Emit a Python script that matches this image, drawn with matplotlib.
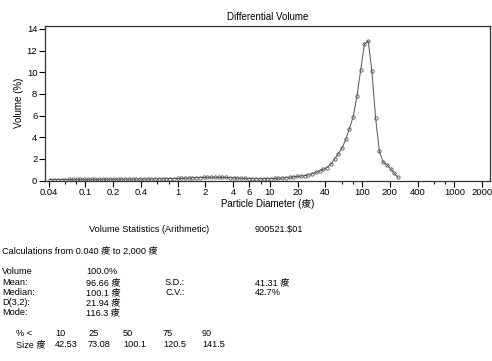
import matplotlib
matplotlib.use("Agg")
import matplotlib.pyplot as plt
from matplotlib.ticker import FixedLocator, NullFormatter

plt.rcParams['font.family'] = ['Liberation Sans', 'Noto Sans CJK JP']

# Channel centre diameters (um) and differential volume (%)
diameters = [0.0419, 0.0460, 0.0504, 0.0554, 0.0608, 0.0667, 0.0732, 0.0805, 0.0883, 0.0969,
             0.1065, 0.1168, 0.1283, 0.1408, 0.1546, 0.1697, 0.1863, 0.2045, 0.2245, 0.2464,
             0.2705, 0.2971, 0.3261, 0.3579, 0.393, 0.432, 0.474, 0.520, 0.571, 0.627,
             0.688, 0.755, 0.829, 0.911, 1.000, 1.097, 1.204, 1.321, 1.451, 1.593,
             1.749, 1.920, 2.106, 2.312, 2.539, 2.787, 3.060, 3.358, 3.687, 4.048,
             4.443, 4.878, 5.354, 5.878, 6.452, 7.083, 7.776, 8.536, 9.371, 10.29,
             11.30, 12.40, 13.61, 14.94, 16.40, 18.00, 19.76, 21.70, 23.82, 26.14,
             28.70, 31.51, 34.59, 37.97, 41.68, 45.76, 50.23, 55.14, 60.53, 66.44,
             72.94, 80.07, 87.91, 96.49, 105.9, 116.3, 127.6, 140.1, 153.8, 168.9,
             185.4, 203.5, 223.4, 245.3]
volume = [0.08, 0.08, 0.09, 0.09, 0.09, 0.10, 0.10, 0.10, 0.10, 0.10,
          0.10, 0.10, 0.10, 0.10, 0.11, 0.11, 0.11, 0.11, 0.12, 0.12,
          0.12, 0.12, 0.12, 0.13, 0.13, 0.13, 0.14, 0.14, 0.15, 0.15,
          0.16, 0.16, 0.17, 0.18, 0.19, 0.20, 0.21, 0.23, 0.24, 0.26,
          0.27, 0.28, 0.29, 0.30, 0.30, 0.30, 0.29, 0.28, 0.26, 0.25,
          0.23, 0.21, 0.20, 0.18, 0.17, 0.16, 0.16, 0.16, 0.17, 0.18,
          0.19, 0.21, 0.23, 0.26, 0.29, 0.33, 0.37, 0.41, 0.45, 0.52,
          0.62, 0.74, 0.88, 1.03, 1.2, 1.5, 2.0, 2.45, 3.0, 3.8,
          4.8, 5.9, 7.8, 10.2, 12.6, 12.9, 10.1, 5.75, 2.7, 1.7,
          1.45, 1.1, 0.65, 0.3]

x_major = [0.04, 0.1, 0.2, 0.4, 1, 2, 4, 6, 10, 20, 40, 100, 200, 400, 1000, 2000]
x_major_labels = ["0.04", "0.1", "0.2", "0.4", "1", "2", "4", "6", "10", "20", "40",
                  "100", "200", "400", "1000", "2000"]
x_minor = [0.06, 0.08, 0.6, 0.8, 8, 60, 80, 600, 800]
y_ticks = [0, 2, 4, 6, 8, 10, 12, 14]

U = "\u75e0"  # garbled micron sign as printed

W, H = 492, 361
fig = plt.figure(figsize=(W / 100, H / 100), dpi=100)
L, R, T, B = 45, 489.5, 26, 180.5
ax = fig.add_axes([L / W, 1 - B / H, (R - L) / W, (B - T) / H])

ax.plot(diameters, volume, color="#555555", lw=0.7, marker="o", ms=2.4,
        mfc="none", mec="#555555", mew=0.6)
ax.set_xscale("log")
ax.set_xlim(0.0366, 2400)
ax.set_ylim(0, 14.27)
ax.xaxis.set_major_locator(FixedLocator(x_major))
ax.set_xticklabels(x_major_labels)
ax.xaxis.set_minor_locator(FixedLocator(x_minor))
ax.xaxis.set_minor_formatter(NullFormatter())
ax.set_yticks(y_ticks)
ax.set_yticklabels([str(v) for v in y_ticks])
ax.tick_params(axis="both", which="major", labelsize=6.8, length=4, width=0.8,
               direction="out", pad=1.5)
ax.tick_params(axis="x", which="minor", length=2.5, width=0.7, direction="out")
for s in ax.spines.values():
    s.set_linewidth(0.9)
    s.set_color("#333333")

ax.set_title("Differential Volume", fontsize=7, pad=4)
ax.set_xlabel("Particle Diameter (" + U + ")", fontsize=7, labelpad=1)
ax.set_ylabel("Volume (%)", fontsize=7, labelpad=2)

fs = 6.6
def t(x, y, s):
    fig.text(x / W, 1 - y / H, s, fontsize=fs, va="center", ha="left")

t(89, 229, "Volume Statistics (Arithmetic)")
t(255, 229, "900521.$01")
t(2, 251, "Calculations from 0.040 " + U + " to 2,000 " + U)
rows_l = ["Volume", "Mean:", "Median:", "D(3,2):", "Mode:"]
rows_v = ["100.0%", "96.66 " + U, "100.1 " + U, "21.94 " + U, "116.3 " + U]
ys = [272, 282.5, 292.5, 302.5, 312.5]
for lab, val, y in zip(rows_l, rows_v, ys):
    t(2, y, lab)
    t(86, y, val)
t(165, 282.5, "S.D.:")
t(255, 282.5, "41.31 " + U)
t(165, 292.5, "C.V.:")
t(255, 292.5, "42.7%")

pct = ["10", "25", "50", "75", "90"]
sizes = ["42.53", "73.08", "100.1", "120.5", "141.5"]
xs = [55, 88, 123, 163, 202]
t(16, 334, "% <")
t(16, 344.5, "Size " + U)
for p, s_, x in zip(pct, sizes, xs):
    t(x, 334, p)
    t(x, 344.5, s_)

fig.savefig("out.png", dpi=100)
